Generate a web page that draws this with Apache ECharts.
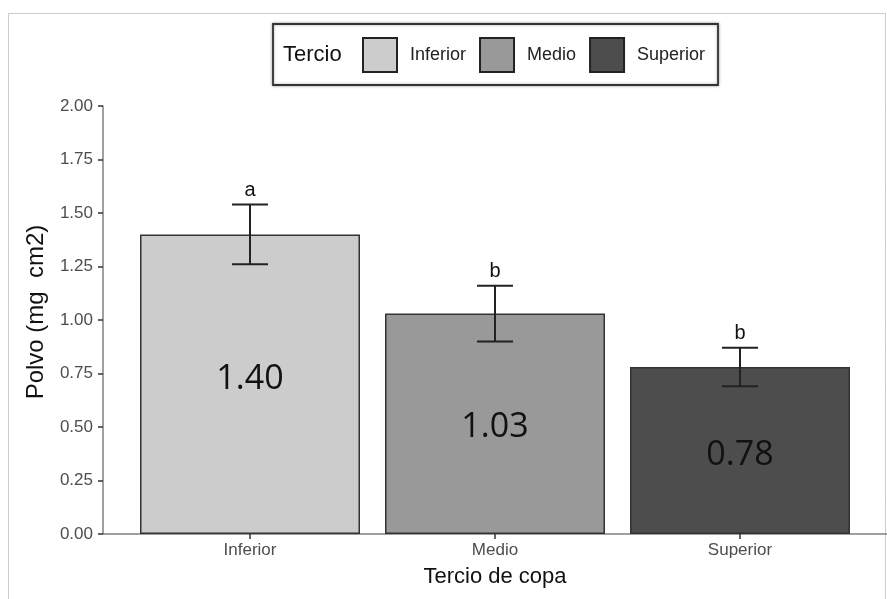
<!DOCTYPE html>
<html>
<head>
<meta charset="utf-8">
<script src="https://cdn.jsdelivr.net/npm/echarts@6/dist/echarts.min.js"></script>
<style>
  html, body { margin: 0; padding: 0; background: #ffffff; }
  #chart { width: 887px; height: 599px; }
</style>
</head>
<body>
<div id="chart"></div>
<script>
// Crown third categories and measured dust load
const categories = ['Inferior', 'Medio', 'Superior'];
const means = [1.40, 1.03, 0.78];
const errors = [0.14, 0.13, 0.09];
const groupLetters = ['a', 'b', 'b'];
const fills = ['#cccccc', '#999999', '#4d4d4d'];
const yTicks = [0, 0.25, 0.5, 0.75, 1.0, 1.25, 1.5, 1.75, 2.0];

const FONT = '"Liberation Sans", Arial, sans-serif';
const labelShift = [-5, 4, 5];
const chart = echarts.init(document.getElementById('chart'));

// One bar series per category so each gets its own legend key
const barSeries = categories.map((name, i) => ({
  name: name,
  type: 'bar',
  stack: 'bars',
  barWidth: 220,
  data: [[i + 1, means[i]]],
  itemStyle: { color: fills[i], borderColor: '#333333', borderWidth: 1.5 },
  label: {
    show: true,
    position: 'inside',
    offset: [0, labelShift[i]],
    formatter: p => p.value[1].toFixed(2),
    fontFamily: '"Open Sans", "Noto Sans", sans-serif',
    fontSize: 34,
    color: '#111111'
  },
  emphasis: { disabled: true },
  z: 2
}));

// Error bars with significance letters
const errorData = categories.map((c, i) => [i + 1, means[i] - errors[i], means[i] + errors[i], groupLetters[i]]);
const errorSeries = {
  name: 'error',
  type: 'custom',
  data: errorData,
  z: 5,
  renderItem: (params, api) => {
    const x = api.value(0);
    const lo = api.coord([x, api.value(1)]);
    const hi = api.coord([x, api.value(2)]);
    const half = 18;
    const style = { stroke: '#222222', lineWidth: 2 };
    return {
      type: 'group',
      children: [
        { type: 'line', shape: { x1: lo[0], y1: lo[1], x2: hi[0], y2: hi[1] }, style },
        { type: 'line', shape: { x1: lo[0] - half, y1: lo[1], x2: lo[0] + half, y2: lo[1] }, style },
        { type: 'line', shape: { x1: hi[0] - half, y1: hi[1], x2: hi[0] + half, y2: hi[1] }, style },
        {
          type: 'text',
          style: {
            text: errorData[params.dataIndex][3],
            x: hi[0], y: hi[1] - 4,
            align: 'center', verticalAlign: 'bottom',
            fontFamily: FONT, fontSize: 20, fill: '#111111'
          }
        }
      ]
    };
  }
};

chart.setOption({
  animation: false,
  backgroundColor: '#ffffff',
  grid: { left: 103, right: 0, top: 106, bottom: 65 },
  graphic: [
    {
      type: 'rect', z: -10, silent: true,
      shape: { x: 8.5, y: 13.5, width: 877, height: 600 },
      style: { fill: 'none', stroke: '#999999', lineWidth: 1, lineDash: [1, 1] }
    },
    {
      type: 'rect', z: 0, silent: true,
      shape: { x: 273, y: 24, width: 445, height: 61 },
      style: { fill: '#ffffff', stroke: '#333333', lineWidth: 1.8, shadowBlur: 3, shadowColor: 'rgba(0,0,0,0.35)' }
    },
    {
      type: 'text', z: 1, silent: true,
      style: {
        text: 'Tercio', x: 283, y: 55, verticalAlign: 'middle',
        fontFamily: FONT, fontSize: 22, fill: '#111111'
      }
    }
  ],
  legend: {
    data: categories,
    left: 362, top: 37,
    padding: 0,
    z: 10,
    icon: 'rect',
    itemWidth: 34, itemHeight: 34, itemGap: 13,
    selectedMode: false,
    itemStyle: { borderColor: '#222222', borderWidth: 2 },
    textStyle: { fontFamily: FONT, fontSize: 18, color: '#222222', padding: [0, 0, 0, 8] }
  },
  xAxis: {
    type: 'value',
    min: 0.4, max: 3.6,
    name: 'Tercio de copa',
    nameLocation: 'middle',
    nameGap: 32,
    nameTextStyle: { fontFamily: FONT, fontSize: 22, color: '#111111' },
    axisLine: { show: true, onZero: false, lineStyle: { color: '#808080', width: 1.5 } },
    axisTick: { show: true, customValues: [1, 2, 3], length: 5, lineStyle: { color: '#333333', width: 1.5 } },
    axisLabel: {
      customValues: [1, 2, 3],
      formatter: v => categories[Math.round(v) - 1],
      margin: 8,
      fontFamily: FONT, fontSize: 17, color: '#4d4d4d'
    },
    splitLine: { show: false }
  },
  yAxis: {
    type: 'value',
    min: 0, max: 2, interval: 0.25,
    name: 'Polvo (mg  cm2)',
    nameLocation: 'middle',
    nameGap: 55,
    nameTextStyle: { fontFamily: FONT, fontSize: 24, color: '#111111', padding: [0, 0, 0, 16] },
    axisLine: { show: true, lineStyle: { color: '#808080', width: 1.5 } },
    axisTick: { show: true, length: 5, lineStyle: { color: '#333333', width: 1.5 } },
    axisLabel: {
      customValues: yTicks,
      formatter: v => v.toFixed(2),
      margin: 10,
      fontFamily: FONT, fontSize: 17, color: '#4d4d4d'
    },
    splitLine: { show: false }
  },
  series: [...barSeries, errorSeries]
});
</script>
</body>
</html>
